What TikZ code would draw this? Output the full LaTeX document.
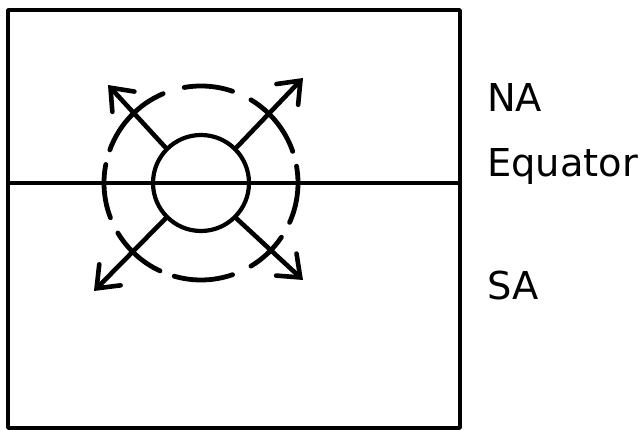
\documentclass[tikz,border=0pt]{standalone}
\usepackage{fontspec}
\setmainfont{DejaVu Sans}
\usetikzlibrary{arrows.meta,calc}
\begin{document}
\begin{tikzpicture}[x=1pt,y=1pt,
  frame/.style={line width=3.8pt,line join=round},
  eqline/.style={line width=3.6pt},
  core/.style={circle,draw,line width=4.2pt,minimum size=96pt,inner sep=0pt},
  ring/.style={line width=4.8pt,line cap=round},
  outflow/.style={line width=4.6pt,line cap=round,
    -{Straight Barb[length=19pt,width=30pt,line width=4.6pt,line cap=round]}},
  lab/.style={anchor=base west,font=\fontsize{38.4}{40}\selectfont,inner sep=0pt}]
\useasboundingbox (0,0) rectangle (641,430);
\draw[frame] (8,2) rectangle (460,420);
\coordinate (eqL) at (8,247);
\coordinate (eqR) at (460,247);
\draw[eqline] (eqL) -- (eqR);
\node[core] (c) at (201,247) {};
\foreach \a/\b in {19/59,71/100,113/160,169/201,211/245,254/289,301/326,336/370}
  \draw[ring] ($(c.center)+(\a:97)$) arc[start angle=\a,end angle=\b,radius=97];
\coordinate (tUR) at (303,352);
\coordinate (tUL) at (108,345);
\coordinate (tLL) at (94,139);
\coordinate (tLR) at (303,150);
\draw[outflow] (c.45) -- (tUR);
\draw[outflow] (c.135) -- (tUL);
\draw[outflow] (c.225) -- (tLL);
\draw[outflow] (c.315) -- (tLR);
\node[lab] (na) at (487,318) {NA};
\node[lab] (eq) at (487,253) {Equator};
\node[lab] (sa) at (487,130) {SA};
\end{tikzpicture}
\end{document}
